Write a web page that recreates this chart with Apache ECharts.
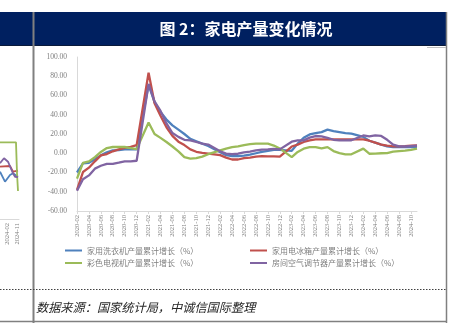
<!DOCTYPE html>
<html>
<head>
<meta charset="utf-8">
<script src="https://cdn.jsdelivr.net/npm/echarts@6/dist/echarts.min.js"></script>
<style>
html,body{margin:0;padding:0;background:#fff;}
#c{width:457px;height:323px;}
</style>
</head>
<body>
<div id="c"></div>
<script>
// ---- Data ----
var categories = [
  '2020-02','2020-03','2020-04','2020-05','2020-06','2020-07','2020-08','2020-09','2020-10','2020-11','2020-12',
  '2021-01','2021-02','2021-03','2021-04','2021-05','2021-06','2021-07','2021-08','2021-09','2021-10','2021-11','2021-12',
  '2022-01','2022-02','2022-03','2022-04','2022-05','2022-06','2022-07','2022-08','2022-09','2022-10','2022-11','2022-12',
  '2023-01','2023-02','2023-03','2023-04','2023-05','2023-06','2023-07','2023-08','2023-09','2023-10','2023-11','2023-12',
  '2024-01','2024-02','2024-03','2024-04','2024-05','2024-06','2024-07','2024-08','2024-09','2024-10','2024-11'
];
var seriesNames = [
  '家用洗衣机产量累计增长（%）',
  '家用电冰箱产量累计增长（%）',
  '彩色电视机产量累计增长（%）',
  '房间空气调节器产量累计增长（%）'
];
var washer = [
  -20, -10.5, -10, -6.3, -2.2, 1, 3, 3.3, 4, 4, 4,
  null, 71, 53, 43, 35, 29, 24.5, 20, 15, 12.5, 10, 7.5,
  null, 1, -2, -3, -3, -2.5, -1.5, 0, 1.5, 2.5, 3.5, 3.5,
  null, 2.5, 10, 16, 19.6, 21, 22, 24.5, 23, 22, 21, 20.3,
  null, 17, 13, 11, 9, 7.2, 6.4, 6.4, 6.4, 6.4, 6.4
];
var fridge = [
  -38, -19.5, -15, -8.4, -2.2, -0.8, 2, 4, 5.5, 6.7, 8.5,
  null, 83.7, 52, 39, 27, 18, 12, 8.5, 4, 1.5, 0.5, -0.3,
  null, -2, -4.5, -6.5, -6.5, -5, -4.5, -3.5, -3, -3.2, -3.2, -3.6,
  null, 7, 9, 11.7, 13.4, 14.4, 14.4, 14.4, 14.4, 14.4, 14.4, 14.5,
  null, 14.4, 13, 11, 9, 8, 7.2, 7.2, 7.5, 8, 8.2
];
var tv = [
  -26.4, -10, -8.4, -4, 1.3, 5.4, 6.5, 6.5, 6.5, 5.4, 4.3,
  null, 32, 20, 16, 11.7, 7, 2, -4, -5.6, -5, -3.5, -1,
  null, 3, 4.8, 6.4, 7.2, 8.5, 9.5, 10, 10, 10, 8, 5,
  null, -4, 1.3, 4.8, 6.4, 6.4, 5, 6.4, 2.3, 0.2, -1.1, -1.1,
  null, 4.8, -0.5, -0.4, 0, 0.2, 1.6, 2.3, 2.7, 3.5, 4.8
];
var ac = [
  -39, -27, -23, -16, -13, -11, -11, -9.8, -8.4, -8.4, -7.8,
  null, 72, 54, 44, 31, 21, 17, 14, 13.4, 11.7, 10, 9,
  null, 2, -0.4, -1, -0.5, 1, 1.6, 3, 3.7, 4, 4.5, 4,
  null, 12, 13.4, 13.4, 16.2, 17.9, 17.5, 16, 14, 13.4, 13.4, 13.5,
  null, 18.5, 17.5, 18.6, 18, 14, 9, 7.2, 7, 7.5, 8
];
var yTicks = {min: -60, max: 100, interval: 20};

// fragment of the neighbouring chart (cut off at the left edge)
var leftCats = ['', '', '', '', '', '', '', '2024-02', '', '', '', '', '', '', '', '', '', '2024-11', '', ''];
var leftWasher = [-16, null, null, null, null, -25.3, null, -26.8, null, null, -19, null, null, -17.5, null, null, null, null, -20.7, null];
var leftFridge = [-11.3, null, null, null, null, null, null, null, null, null, -10.7, null, null, -16, null, null, null, null, -15, null];
var leftTv = [11.3, null, null, null, null, null, null, null, null, null, null, null, null, null, null, null, 11.3, -17.5, -34, null];
var leftAc = [-8.2, null, null, null, -3.5, null, null, null, -6.7, null, null, null, null, -17.5, null, -20.7, null, null, -21, null];

var colors = ['#4F81BD', '#C0504D', '#9BBB59', '#8064A2'];

var chart = echarts.init(document.getElementById('c'), null, {renderer: 'canvas'});

function mkLegend(idx, left, top) {
  return {
    data: [seriesNames[idx]], left: left, top: top,
    icon: 'rect', itemWidth: 17, itemHeight: 2, itemGap: 4,
    padding: 0,
    textStyle: {fontSize: 8, color: '#7f7f7f', fontFamily: 'Noto Sans CJK SC'}
  };
}

var mainSeries = [washer, fridge, tv, ac].map(function (d, i) {
  return {
    name: seriesNames[i], type: 'line', data: d, xAxisIndex: 0, yAxisIndex: 0,
    showSymbol: false, connectNulls: true, color: colors[i],
    lineStyle: {width: 2.3, color: colors[i]}, emphasis: {disabled: true}, z: 3
  };
});
var leftSeries = [leftWasher, leftFridge, leftTv, leftAc].map(function (d, i) {
  return {
    name: 'left' + i, type: 'line', data: d, xAxisIndex: 1, yAxisIndex: 1,
    showSymbol: false, connectNulls: true, color: colors[i],
    lineStyle: {width: 1.8, color: colors[i]}, emphasis: {disabled: true}, z: 3
  };
});

var option = {
  animation: false,
  backgroundColor: '#fff',
  grid: [
    {left: 77, top: 57, right: 40, bottom: 112, containLabel: false},
    {left: 0, top: 47, width: 19, bottom: 104, containLabel: false}
  ],
  legend: [mkLegend(0, 65, 246.5), mkLegend(1, 250, 246.5), mkLegend(2, 65, 259), mkLegend(3, 250, 259)],
  xAxis: [
    {
      type: 'category', data: categories, boundaryGap: false, gridIndex: 0,
      axisLine: {onZero: false, lineStyle: {color: '#d9d9d9', width: 1}},
      axisTick: {show: true, interval: 1, length: 3, lineStyle: {color: '#d9d9d9'}},
      axisLabel: {interval: 1, rotate: 90, margin: 4, fontSize: 6.5, color: '#7f7f7f', fontFamily: 'Liberation Serif'},
      splitLine: {show: false}
    },
    {
      type: 'category', data: leftCats, boundaryGap: false, gridIndex: 1,
      axisLine: {onZero: false, lineStyle: {color: '#d9d9d9', width: 1}},
      axisTick: {show: false},
      axisLabel: {interval: 0, rotate: 90, margin: 4, fontSize: 6.5, color: '#7f7f7f', fontFamily: 'Liberation Serif'},
      splitLine: {show: false}
    }
  ],
  yAxis: [
    {
      type: 'value', gridIndex: 0, min: yTicks.min, max: yTicks.max, interval: yTicks.interval,
      axisLine: {show: true, lineStyle: {color: '#d9d9d9'}},
      axisTick: {show: false},
      splitLine: {show: false},
      axisLabel: {margin: 10, fontSize: 7.5, color: '#7f7f7f', fontFamily: 'Liberation Serif',
        formatter: function (v) { return v.toFixed(2); }}
    },
    {
      type: 'value', gridIndex: 1, min: yTicks.min, max: yTicks.max, show: false
    }
  ],
  series: mainSeries.concat(leftSeries),
  graphic: [
    {type: 'rect', shape: {x: 0, y: 12, width: 447, height: 33}, style: {fill: '#002060'}, z: 10},
    {type: 'line', shape: {x1: 0, y1: 45.5, x2: 447, y2: 45.5}, style: {stroke: '#0a1a3a', lineWidth: 1.2}, z: 11},
    {type: 'line', shape: {x1: 33.5, y1: 12, x2: 33.5, y2: 323}, style: {stroke: '#808080', lineWidth: 2}, z: 12},
    {type: 'line', shape: {x1: 446.5, y1: 12, x2: 446.5, y2: 323}, style: {stroke: '#808080', lineWidth: 1.5}, z: 12},
    {type: 'line', shape: {x1: 427, y1: 47.5, x2: 446, y2: 47.5}, style: {stroke: '#bfbfbf', lineWidth: 1}, z: 12},
    {type: 'line', shape: {x1: 0, y1: 289.5, x2: 447, y2: 289.5}, style: {stroke: '#404040', lineWidth: 1, lineDash: [1.5, 1.5]}, z: 12},
    {type: 'line', shape: {x1: 0, y1: 321.5, x2: 447, y2: 321.5}, style: {stroke: '#808080', lineWidth: 1.5}, z: 12},
    {type: 'text', x: 246, y: 29, z: 13,
      style: {text: '图 2：家电产量变化情况', fill: '#ffffff', fontSize: 16, fontWeight: 'bold',
        fontFamily: 'Noto Sans CJK SC', align: 'center', verticalAlign: 'middle'}},
    {type: 'text', x: 36, y: 307, z: 13,
      style: {text: '数据来源：国家统计局，中诚信国际整理', fill: '#262626', fontSize: 12.2, fontStyle: 'italic',
        fontFamily: 'Noto Sans CJK SC', align: 'left', verticalAlign: 'middle'}}
  ]
};
chart.setOption(option);
</script>
</body>
</html>
